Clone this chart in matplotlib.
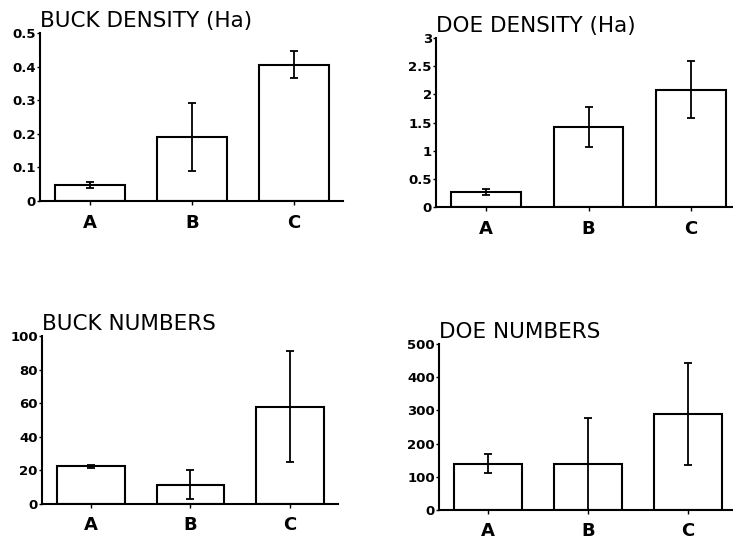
import numpy as np
import matplotlib.pyplot as plt

plt.rcParams['font.family'] = ['DejaVu Sans']

groups = ["A", "B", "C"]

# buck density (per Ha)
buck_dens = [0.048, 0.19, 0.405]
buck_dens_lo = [0.040, 0.090, 0.365]
buck_dens_hi = [0.057, 0.292, 0.445]

# doe density (per Ha)
doe_dens = [0.27, 1.42, 2.08]
doe_dens_lo = [0.22, 1.07, 1.58]
doe_dens_hi = [0.32, 1.78, 2.60]

# buck numbers
buck_num = [22.5, 11.5, 57.5]
buck_num_lo = [21.5, 3.0, 25.0]
buck_num_hi = [23.5, 20.5, 91.0]

# doe numbers
doe_num = [140, 138, 288]
doe_num_lo = [112, 0, 135]
doe_num_hi = [168, 278, 442]

panels = [
    ("BUCK DENSITY (Ha)", buck_dens, buck_dens_lo, buck_dens_hi,
     [0, 0.1, 0.2, 0.3, 0.4, 0.5], ["0", "0.1", "0.2", "0.3", "0.4", "0.5"],
     [40/733, 1-201/544, 303/733, 168/544], (-0.49, 2.48)),
    ("DOE DENSITY (Ha)", doe_dens, doe_dens_lo, doe_dens_hi,
     [0, 0.5, 1, 1.5, 2, 2.5, 3], ["0", "0.5", "1", "1.5", "2", "2.5", "3"],
     [436/733, 1-207/544, 297/733, 169/544], (-0.49, 2.41)),
    ("BUCK NUMBERS", buck_num, buck_num_lo, buck_num_hi,
     [0, 20, 40, 60, 80, 100], ["0", "20", "40", "60", "80", "100"],
     [42/733, 1-504/544, 296/733, 168/544], (-0.49, 2.48)),
    ("DOE NUMBERS", doe_num, doe_num_lo, doe_num_hi,
     [0, 100, 200, 300, 400, 500], ["0", "100", "200", "300", "400", "500"],
     [439/733, 1-510/544, 294/733, 166/544], (-0.49, 2.45)),
]

fig = plt.figure(figsize=(7.33, 5.44), dpi=100)

for title, vals, lo, hi, yt, ytl, pos, xl in panels:
    ax = fig.add_axes(pos)
    x = np.arange(len(groups))
    vals = np.array(vals)
    err = [vals - np.array(lo), np.array(hi) - vals]
    ax.bar(x, vals, width=0.68, color='white', edgecolor='black', linewidth=1.5)
    ax.errorbar(x, vals, yerr=err, fmt='none', ecolor='black', elinewidth=1.3,
                capsize=3, capthick=1.3)
    ax.set_xlim(*xl)
    ax.set_ylim(yt[0], yt[-1])
    ax.set_yticks(yt)
    ax.set_yticklabels(ytl, fontsize=9.5, fontweight='bold')
    ax.set_xticks(x)
    ax.set_xticklabels(groups, fontsize=13, fontweight='bold')
    ax.tick_params(axis='y', length=2, width=1, pad=1)
    ax.tick_params(axis='x', length=3, width=1, pad=6)
    ax.spines['top'].set_visible(False)
    ax.spines['right'].set_visible(False)
    ax.spines['left'].set_linewidth(1.5)
    ax.spines['bottom'].set_linewidth(1.5)
    ax.text(0.0, 1.035, title, transform=ax.transAxes, fontsize=15.5,
            ha='left', va='baseline')

fig.savefig('out.png', dpi=100)
